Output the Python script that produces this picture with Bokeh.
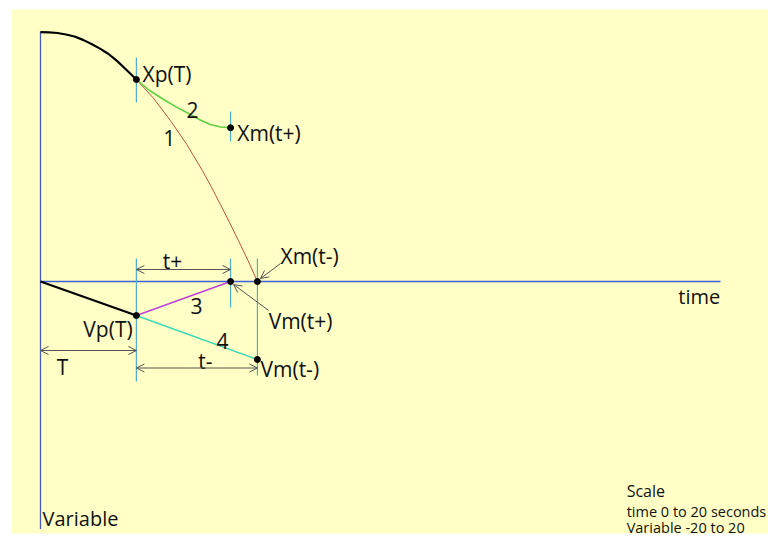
from bokeh.plotting import figure
from bokeh.models import ColumnDataSource, Arrow, OpenHead, Range1d
from bokeh.core.properties import value
from bokeh.embed import file_html
from bokeh.resources import INLINE

# ---- data (time in seconds, variable in units) ----
T_split = 2.82          # time T
t_plus = 5.59           # end of t+
t_minus = 6.38          # end of t-

# Xp : measured position curve up to T
xp_t = [0.0, 0.25, 0.5, 0.75, 1.0, 1.25, 1.5, 1.75, 2.0, 2.25, 2.5, 2.82]
xp_v = [19.95, 19.93, 19.88, 19.76, 19.6, 19.33, 19.0, 18.63, 18.2, 17.65, 17.0, 16.16]

# curve 1 (red) : Xp(T) -> Xm(t-)
c1_t = [2.82, 3.3, 3.82, 4.3, 4.76, 5.02, 5.29, 5.55, 5.82, 6.1, 6.38]
c1_v = [16.16, 14.74, 12.88, 10.98, 8.88, 7.6, 6.16, 4.78, 3.28, 1.7, 0.0]

# curve 2 (green) : Xp(T) -> Xm(t+)
c2_t = [2.82, 3.2, 3.62, 4.0, 4.41, 4.7, 5.0, 5.3, 5.59]
c2_v = [16.16, 15.3, 14.56, 13.95, 13.36, 12.92, 12.56, 12.36, 12.3]

# Vp : velocity up to T
vp_t = [0.0, 2.82]
vp_v = [0.0, -2.72]

# line 3 (magenta) : Vp(T) -> Vm(t+)
l3_t = [2.82, 5.59]
l3_v = [-2.72, 0.0]

# line 4 (cyan) : Vp(T) -> Vm(t-)
l4_t = [2.82, 6.38]
l4_v = [-2.72, -6.24]

# marked points
pt_t = [2.82, 5.59, 5.59, 6.38, 2.82, 6.38]
pt_v = [16.16, 12.3, 0.0, 0.0, -2.72, -6.24]

# vertical marker lines (cyan)
mk_t = [2.82, 5.59, 2.82, 5.59, 6.38]
mk_v0 = [17.92, 13.6, 1.84, 1.84, 1.84]
mk_v1 = [14.32, 11.2, -8.0, -2.08, -7.52]

# dimension arrows  (T, t+, t-)
dim_t0 = [0.0, 2.82, 2.82]
dim_t1 = [2.82, 5.59, 6.38]
dim_v = [-5.52, 0.96, -6.92]

# leader arrows  (Xm(t-), Vm(t+))
ld_t0 = [7.06, 6.71]
ld_v0 = [1.44, -2.32]
ld_t1 = [6.47, 5.68]
ld_v1 = [0.24, -0.24]

# axes extents
ax_time = [0.0, 20.0]
ax_var = [20.0, -19.8]

# labels
lab_text = ["Xp(T)", "2", "1", "Xm(t+)", "Xm(t-)", "t+", "3", "Vm(t+)", "4",
            "t-", "Vm(t-)", "T"]
lab_t = [3.0, 4.47, 3.79, 5.79, 7.06, 3.88, 4.59, 6.71, 5.35, 4.85, 6.47, 0.65]
lab_v = [16.64, 13.76, 11.52, 11.92, 2.08, 1.68, -1.92, -3.12, -4.72, -6.32, -6.96, -6.8]
lab_align = ["left", "center", "center", "left", "left", "center", "center", "left",
             "center", "center", "left", "center"]

vp_lab_text = ["Vp(T)"]
vp_lab_t = [2.71]
vp_lab_v = [-3.76]

axis_text = ["time", "Variable"]
axis_t = [18.76, 0.06]
axis_v = [-1.2, -18.96]

scale_text = ["Scale", "time 0 to 20 seconds", "Variable -20 to 20"]
scale_t = [17.24, 17.24, 17.24]
scale_v = [-16.72, -18.4, -19.68]
scale_size = ["16px", "14.5px", "14.5px"]

# ---- figure ----
BG = "#FFFFC6"
p = figure(width=768, height=538, output_backend="svg", toolbar_location=None,
           x_range=Range1d(-0.8529, 21.4118), y_range=Range1d(-20.16, 21.76),
           min_border_left=11, min_border_right=0, min_border_top=9, min_border_bottom=5,
           background_fill_color=BG, border_fill_color="white")
p.outline_line_color = None
p.axis.visible = False
p.grid.visible = False

# axes
p.line([0, 0], ax_var, line_color="#4B5CB8", line_width=1.3)
p.line(ax_time, [0, 0], line_color="#3F5ED6", line_width=1.3)

# marker lines
p.segment(x0=mk_t, y0=mk_v0, x1=mk_t, y1=mk_v1, line_color="#4BAFC8", line_width=1.2)

# curves
p.line(xp_t, xp_v, line_color="black", line_width=2.2, line_join="round")
p.line(c1_t, c1_v, line_color="#C0503A", line_width=1, line_join="round")
p.line(c2_t, c2_v, line_color="#5CD040", line_width=1.6, line_join="round")
p.line(vp_t, vp_v, line_color="black", line_width=2.2)
p.line(l3_t, l3_v, line_color="#C040D8", line_width=1.5)
p.line(l4_t, l4_v, line_color="#3CD8B8", line_width=1.6)

# dimension arrows
dim_src = ColumnDataSource(dict(x0=dim_t0, x1=dim_t1, y=dim_v))
p.add_layout(Arrow(source=dim_src, x_start="x0", y_start="y", x_end="x1", y_end="y",
                   line_color="#555555", line_width=1,
                   start=OpenHead(size=8, line_color="#555555", line_width=1),
                   end=OpenHead(size=8, line_color="#555555", line_width=1)))

# leader arrows
ld_src = ColumnDataSource(dict(x0=ld_t0, y0=ld_v0, x1=ld_t1, y1=ld_v1))
p.add_layout(Arrow(source=ld_src, x_start="x0", y_start="y0", x_end="x1", y_end="y1",
                   line_color="#555555", line_width=1,
                   end=OpenHead(size=8, line_color="#555555", line_width=1)))

# points
p.scatter(pt_t, pt_v, size=6, color="black")

FONT = value("Open Sans")
lab_src = ColumnDataSource(dict(x=lab_t, y=lab_v, text=lab_text, align=lab_align))
p.text(x="x", y="y", text="text", source=lab_src, text_align="align",
       text_baseline="middle", text_font=FONT, text_font_size="21px", text_color="#111111")
p.text(x=vp_lab_t, y=vp_lab_v, text=vp_lab_text, text_align="right",
       text_baseline="middle", text_font=FONT, text_font_size="21px", text_color="#111111")
p.text(x=axis_t, y=axis_v, text=axis_text, text_align="left",
       text_baseline="middle", text_font=FONT, text_font_size="20px", text_color="#111111")
sc_src = ColumnDataSource(dict(x=scale_t, y=scale_v, text=scale_text, size=scale_size))
p.text(x="x", y="y", text="text", source=sc_src, text_font_size="size",
       text_baseline="middle", text_align="left", text_font=FONT, text_color="#111111")

open("out.html", "w").write(file_html(p, INLINE))
